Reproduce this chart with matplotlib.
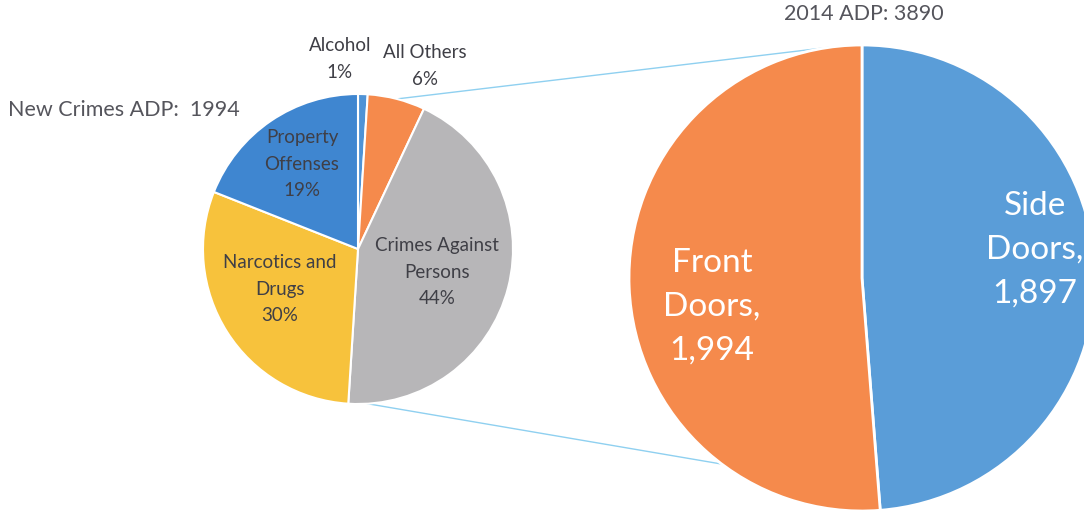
import numpy as np
import matplotlib.pyplot as plt

plt.rcParams['font.family'] = ['Lato', 'DejaVu Sans']

H = 512  # canvas height in pixels, y runs upward in the axes

# left pie: composition of new crimes (percent)
crime_labels = ["Alcohol", "All Others", "Crimes Against\nPersons",
                "Narcotics and\nDrugs", "Property\nOffenses"]
crime_pct = [1, 6, 44, 30, 19]
crime_colors = ["#4f93d6", "#f58a4c", "#b7b6b8", "#f7c23c", "#3f86d0"]

# right pie: average daily population by door
door_labels = ["Side\nDoors", "Front\nDoors"]
door_counts = [1897, 1994]
door_colors = ["#5a9dd8", "#f58a4c"]

left_c, left_r = (358, H - 249), 155
right_c, right_r = (862, H - 278), 233


def edge(center, r, ang):
    # point on a circle, angle measured clockwise from 12 o'clock (degrees)
    a = np.radians(ang)
    return center[0] + r * np.sin(a), center[1] + r * np.cos(a)


fig = plt.figure(figsize=(10.84, 5.12), dpi=100)
ax = fig.add_axes([0, 0, 1, 1])

ax.pie(crime_pct, colors=crime_colors, startangle=90, counterclock=False,
       center=left_c, radius=left_r, frame=True,
       wedgeprops=dict(edgecolor="white", linewidth=1.5))
ax.pie(door_counts, colors=door_colors, startangle=90, counterclock=False,
       center=right_c, radius=right_r, frame=True,
       wedgeprops=dict(edgecolor="white", linewidth=2))

# connector lines between the two pies
for a1, a2 in [(14.5, -8), (176.5, 217)]:
    p1 = edge(left_c, left_r, a1)
    p2 = edge(right_c, right_r, a2)
    ax.plot([p1[0], p2[0]], [p1[1], p2[1]], color="#8fd0f0", lw=1, zorder=0)

# crime labels
crime_xy = [(340, 59), (425, 66), (437, 272), (280, 289), (302, 164)]
for lab, pct, (x, y) in zip(crime_labels, crime_pct, crime_xy):
    ax.text(x, H - y, f"{lab}\n{pct}%", ha="center", va="center",
            fontsize=13.5, color="#3f3f46", linespacing=1.68)

# door labels
door_xy = [(1035, 250), (712, 307)]
for lab, n, (x, y) in zip(door_labels, door_counts, door_xy):
    ax.text(x, H - y, f"{lab},\n{n:,}", ha="center", va="center",
            fontsize=24, color="white", linespacing=1.58)

ax.text(8, H - 110, "New Crimes ADP:  1994", ha="left", va="center",
        fontsize=15.5, color="#55555c")
ax.text(864, H - 14, "2014 ADP: 3890", ha="center", va="center",
        fontsize=15.5, color="#55555c")

ax.set_xlim(0, 1084)
ax.set_ylim(0, H)
ax.set_aspect("equal")
ax.axis("off")

fig.savefig("out.png", dpi=100, facecolor="white")
